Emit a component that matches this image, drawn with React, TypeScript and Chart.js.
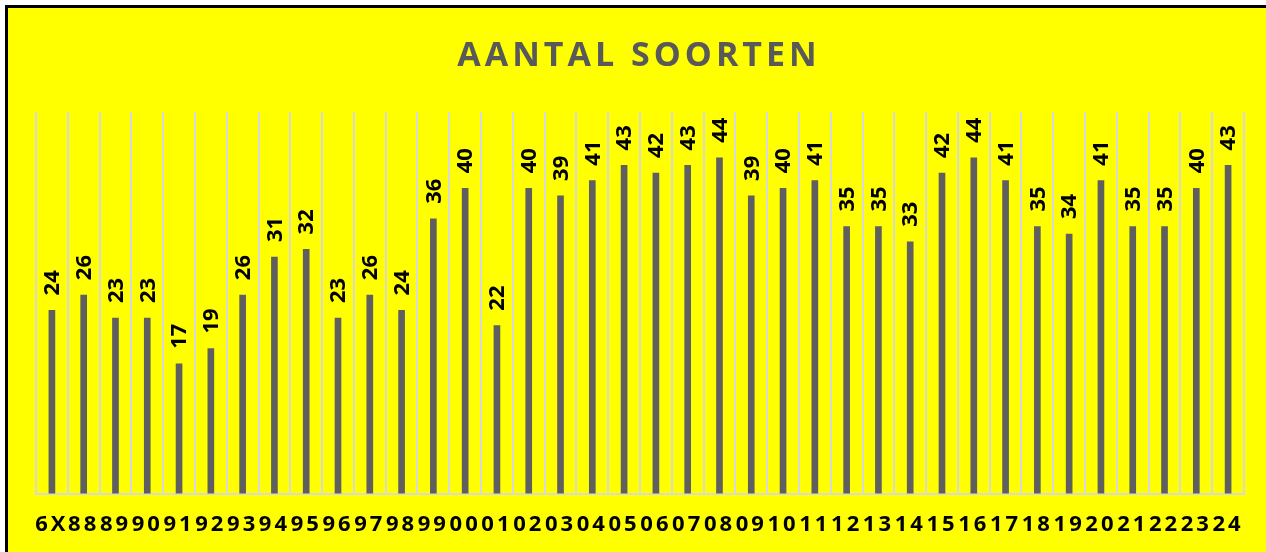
import React, { useEffect, useRef } from 'react';
import { Chart, registerables } from 'chart.js';

Chart.register(...registerables);

const chartTitle = 'AANTAL SOORTEN';
const categories = [
  '6X', '88', '89', '90', '91', '92', '93', '94', '95', '96', '97', '98', '99',
  '00', '01', '02', '03', '04', '05', '06', '07', '08', '09', '10', '11', '12',
  '13', '14', '15', '16', '17', '18', '19', '20', '21', '22', '23', '24',
];
const soorten = [
  24, 26, 23, 23, 17, 19, 26, 31, 32, 23, 26, 24, 36,
  40, 22, 40, 39, 41, 43, 42, 43, 44, 39, 40, 41, 35,
  35, 33, 42, 44, 41, 35, 34, 41, 35, 35, 40, 43,
];

const FONT = '"Open Sans", "DejaVu Sans", sans-serif';

export default function App() {
  const canvasRef = useRef<HTMLCanvasElement | null>(null);

  useEffect(() => {
    const canvas = canvasRef.current;
    if (!canvas) return;

    const spacingPlugin = {
      id: 'tickSpacing',
      beforeDraw(chart: any) {
        chart.ctx.letterSpacing = '3px';
      },
      beforeDatasetsDraw(chart: any) {
        chart.ctx.letterSpacing = '0px';
      },
    };

    const labelPlugin = {
      id: 'barLabels',
      afterDatasetsDraw(chart: any) {
        const ctx = chart.ctx;
        const meta = chart.getDatasetMeta(0);
        ctx.save();
        ctx.letterSpacing = '0px';
        ctx.font = `bold 22px ${FONT}`;
        ctx.fillStyle = '#000000';
        ctx.textAlign = 'left';
        ctx.textBaseline = 'middle';
        meta.data.forEach((el: any, i: number) => {
          ctx.save();
          ctx.translate(el.x + 1, el.y - 15);
          ctx.rotate(-Math.PI / 2);
          ctx.fillText(String(soorten[i]), 0, 0);
          ctx.restore();
        });
        ctx.restore();
      },
    };

    const titlePlugin = {
      id: 'spacedTitle',
      afterDraw(chart: any) {
        const ctx = chart.ctx;
        ctx.save();
        ctx.letterSpacing = '4px';
        ctx.font = `bold 34px ${FONT}`;
        ctx.fillStyle = '#595959';
        ctx.textAlign = 'center';
        ctx.textBaseline = 'alphabetic';
        ctx.fillText(chartTitle, chart.width / 2 + 2, 58);
        ctx.restore();
        ctx.letterSpacing = '0px';
      },
    };

    const chart = new Chart(canvas, {
      type: 'bar',
      data: {
        labels: categories,
        datasets: [
          {
            label: 'Aantal soorten',
            data: soorten,
            backgroundColor: '#5f5f5f',
            borderWidth: 0,
            barThickness: 6,
          },
        ],
      },
      options: {
        animation: false,
        responsive: false,
        layout: { padding: { top: 104, left: 28, right: 22, bottom: -4 } },
        plugins: {
          legend: { display: false },
          title: { display: false },
          tooltip: { enabled: false },
        },
        scales: {
          x: {
            grid: { color: '#d9d9d9', lineWidth: 2, offset: true, drawTicks: false },
            border: { color: '#d9d9d9', width: 2 },
            ticks: {
              color: '#000000',
              font: { family: FONT, weight: 'bold', size: 22 },
              padding: 18,
              autoSkip: false,
              maxRotation: 0,
              minRotation: 0,
            },
          },
          y: { display: false, min: 0, max: 50 },
        },
      },
      plugins: [spacingPlugin, labelPlugin, titlePlugin],
    });

    return () => chart.destroy();
  }, []);

  return (
    <div
      style={{
        position: 'fixed',
        left: 5,
        top: 5,
        width: 1258,
        height: 544,
        borderTop: '3px solid #000',
        borderLeft: '3px solid #000',
        background: '#ffff00',
        overflow: 'hidden',
      }}
    >
      <canvas ref={canvasRef} width={1258} height={544} style={{ display: 'block' }} />
    </div>
  );
}
